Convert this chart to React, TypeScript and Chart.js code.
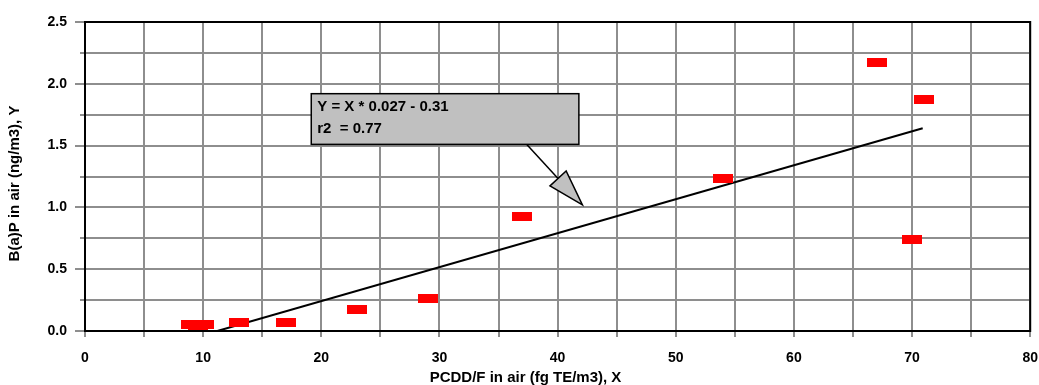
import { useEffect, useRef } from "react";
import { Chart, registerables } from "chart.js";

Chart.register(...registerables);

// ---- data ----
const pcddX = [9, 9.6, 10.1, 13, 17, 23, 29, 37, 54, 67, 70, 71];
const bapY = [0.05, 0.04, 0.05, 0.07, 0.07, 0.17, 0.26, 0.93, 1.23, 2.17, 0.74, 1.87];
const trendX = [11.2, 70.9];
const trendY = [0, 1.64];
const equationLines = ["Y = X * 0.027 - 0.31", "r2  = 0.77"];
const xTitle = "PCDD/F in air (fg TE/m3), X";
const yTitle = "B(a)P in air (ng/m3), Y";

// ---- annotation layout (data coordinates) ----
const calloutBox = { x0: 19.15, x1: 41.8, yTop: 1.92, yBottom: 1.51 };
const arrowFrom = { x: 37.1, y: 1.54 };
const arrowTo = { x: 42.1, y: 1.02 };

const FONT = "'Liberation Sans', Arial, sans-serif";
const GRID = "#8e8e8e";
const VIEW_W = 1039;
const VIEW_H = 385;

const isMajor = (v: number, step: number) =>
  Math.abs(v / step - Math.round(v / step)) < 1e-6;

const notesPlugin = {
  id: "notesPlugin",
  afterDatasetsDraw(chart: any) {
    const { ctx, chartArea: a, scales } = chart;
    const x = scales.x;
    const y = scales.y;
    ctx.save();

    // short minor ticks on y axis
    ctx.strokeStyle = GRID;
    ctx.lineWidth = 2;
    for (let v = 0.25; v < 2.5; v += 0.5) {
      const py = Math.round(y.getPixelForValue(v));
      ctx.beginPath();
      ctx.moveTo(a.left - 5, py);
      ctx.lineTo(a.left, py);
      ctx.stroke();
    }

    // frame
    ctx.strokeStyle = "#000";
    ctx.lineWidth = 2;
    ctx.strokeRect(a.left, a.top, a.right - a.left, a.bottom - a.top);

    // arrow
    const p0 = { x: x.getPixelForValue(arrowFrom.x), y: y.getPixelForValue(arrowFrom.y) };
    const p1 = { x: x.getPixelForValue(arrowTo.x), y: y.getPixelForValue(arrowTo.y) };
    const dx = p1.x - p0.x;
    const dy = p1.y - p0.y;
    const len = Math.hypot(dx, dy);
    const ux = dx / len;
    const uy = dy / len;
    const headLen = 36;
    const halfW = 11;
    const bm = { x: p1.x - ux * headLen, y: p1.y - uy * headLen };
    ctx.strokeStyle = "#000";
    ctx.lineWidth = 1.5;
    ctx.beginPath();
    ctx.moveTo(p0.x, p0.y);
    ctx.lineTo(bm.x, bm.y);
    ctx.stroke();
    ctx.beginPath();
    ctx.moveTo(p1.x, p1.y);
    ctx.lineTo(bm.x - uy * halfW, bm.y + ux * halfW);
    ctx.lineTo(bm.x + uy * halfW, bm.y - ux * halfW);
    ctx.closePath();
    ctx.fillStyle = "#c0c0c0";
    ctx.fill();
    ctx.stroke();

    // callout box
    const bx0 = x.getPixelForValue(calloutBox.x0);
    const bx1 = x.getPixelForValue(calloutBox.x1);
    const by0 = y.getPixelForValue(calloutBox.yTop);
    const by1 = y.getPixelForValue(calloutBox.yBottom);
    ctx.fillStyle = "#c0c0c0";
    ctx.fillRect(bx0, by0, bx1 - bx0, by1 - by0);
    ctx.strokeStyle = "#000";
    ctx.lineWidth = 1.5;
    ctx.strokeRect(bx0, by0, bx1 - bx0, by1 - by0);
    ctx.fillStyle = "#000";
    ctx.font = `bold 15px ${FONT}`;
    ctx.textBaseline = "middle";
    ctx.textAlign = "left";
    equationLines.forEach((t, i) => ctx.fillText(t, bx0 + 6, by0 + 13 + i * 22));

    // axis titles
    ctx.textAlign = "center";
    ctx.textBaseline = "middle";
    ctx.fillText(xTitle, VIEW_W / 2 + 6, VIEW_H - 7);
    ctx.translate(15, VIEW_H / 2 - 9);
    ctx.rotate(-Math.PI / 2);
    ctx.fillText(yTitle, 0, 0);

    ctx.restore();
  },
};

export default function App() {
  const ref = useRef<HTMLCanvasElement | null>(null);

  useEffect(() => {
    if (!ref.current) return;
    const mark = document.createElement("canvas");
    mark.width = 20;
    mark.height = 9;
    const g = mark.getContext("2d")!;
    g.fillStyle = "#ff0000";
    g.fillRect(0, 0, 20, 9);

    const chart = new Chart(ref.current, {
      type: "scatter",
      data: {
        datasets: [
          {
            data: pcddX.map((v, i) => ({ x: v, y: bapY[i] })),
            pointStyle: mark as any,
            pointRadius: 10,
            backgroundColor: "#ff0000",
            borderColor: "#ff0000",
          },
          {
            data: trendX.map((v, i) => ({ x: v, y: trendY[i] })),
            showLine: true,
            pointRadius: 0,
            borderColor: "#000",
            borderWidth: 2,
          },
        ],
      },
      options: {
        animation: false,
        responsive: true,
        maintainAspectRatio: false,
        layout: { padding: { top: 22, right: 0, left: 0, bottom: 0 } },
        plugins: { legend: { display: false }, tooltip: { enabled: false } },
        scales: {
          x: {
            type: "linear",
            min: 0,
            max: 80,
            afterFit: (s: any) => {
              s.height = 54;
            },
            border: { display: true, color: "#000", width: 2 },
            grid: { color: GRID, lineWidth: 2, tickLength: 6, tickColor: GRID },
            ticks: {
              stepSize: 5,
              padding: 13,
              color: "#000",
              font: { family: FONT, size: 14, weight: "bold" },
              maxRotation: 0,
              autoSkip: false,
              callback: (v: any) => (isMajor(Number(v), 10) ? String(v) : ""),
            },
          },
          y: {
            type: "linear",
            min: 0,
            max: 2.5,
            afterFit: (s: any) => {
              s.width = 85;
            },
            border: { display: true, color: "#000", width: 2 },
            grid: {
              color: GRID,
              lineWidth: 2,
              tickLength: 10,
              tickColor: (c: any) =>
                c.tick && isMajor(c.tick.value, 0.5) ? GRID : "rgba(0,0,0,0)",
            },
            ticks: {
              stepSize: 0.25,
              padding: 8,
              color: "#000",
              font: { family: FONT, size: 14, weight: "bold" },
              autoSkip: false,
              callback: (v: any) =>
                isMajor(Number(v), 0.5) ? Number(v).toFixed(1) : "",
            },
          },
        },
      },
      plugins: [notesPlugin],
    });
    return () => chart.destroy();
  }, []);

  return (
    <div
      style={{
        position: "fixed",
        left: 0,
        top: 0,
        width: VIEW_W,
        height: VIEW_H,
        overflow: "hidden",
      }}
    >
      <div style={{ position: "relative", width: VIEW_W + 12, height: VIEW_H }}>
        <canvas ref={ref} />
      </div>
    </div>
  );
}
